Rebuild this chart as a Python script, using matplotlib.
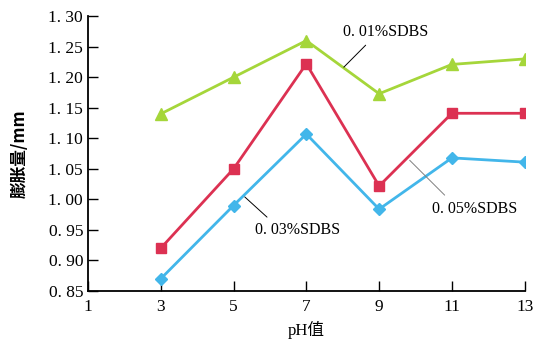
import numpy as np
import matplotlib
matplotlib.use('Agg')
import matplotlib.pyplot as plt
from matplotlib.ticker import FuncFormatter

plt.rcParams['font.family'] = ['Liberation Serif', 'Noto Sans CJK SC', 'DejaVu Sans']

# 数据
ph = [3, 5, 7, 9, 11, 13]
sdbs_001 = [1.14, 1.20, 1.26, 1.173, 1.221, 1.23]
sdbs_005 = [0.92, 1.05, 1.222, 1.022, 1.141, 1.141]
sdbs_003 = [0.87, 0.99, 1.107, 0.984, 1.068, 1.061]
x_ticks = [1, 3, 5, 7, 9, 11, 13]
y_ticks = [0.85, 0.90, 0.95, 1.00, 1.05, 1.10, 1.15, 1.20, 1.25, 1.30]

fig = plt.figure(figsize=(5.36, 3.44), dpi=100)
ax = fig.add_axes([0.164, 0.154, 0.815, 0.799])

ax.plot(ph, sdbs_001, color='#a5d63a', lw=2, marker='^', ms=8)
ax.plot(ph, sdbs_005, color='#dc3152', lw=2, marker='s', ms=7)
ax.plot(ph, sdbs_003, color='#42b6ea', lw=2, marker='D', ms=6)

ax.set_xlim(1, 13)
ax.set_ylim(0.85, 1.30)
ax.set_xticks(x_ticks)
ax.set_yticks(y_ticks)
ax.yaxis.set_major_formatter(FuncFormatter(lambda v, p: f'{v:.2f}'.replace('.', '. ')))
ax.tick_params(direction='in', length=7, width=1, labelsize=12.5)
ax.tick_params(axis='x', pad=6)
for s in ['top', 'right']:
    ax.spines[s].set_visible(False)
for s in ['left', 'bottom']:
    ax.spines[s].set_linewidth(1.3)

ax.set_xlabel('pH值', fontsize=12, labelpad=4)
ax.set_ylabel('膨胀量/mm', fontsize=12, family=['Noto Sans CJK SC'], fontweight='bold', labelpad=14)

# 标注：引线 + 文字
line_kw = dict(arrowstyle='-', lw=0.7, shrinkA=0, shrinkB=0)
ax.annotate('', xy=(8.03, 1.2165), xytext=(8.63, 1.2525),
            arrowprops=dict(color='black', **line_kw))
ax.text(8.0, 1.274, '0. 01%SDBS', fontsize=11.5, ha='left', va='center')

ax.annotate('', xy=(9.84, 1.064), xytext=(10.8, 1.007),
            arrowprops=dict(color='gray', **line_kw))
ax.text(10.45, 0.984, '0. 05%SDBS', fontsize=11.5, ha='left', va='center')

ax.annotate('', xy=(5.31, 1.004), xytext=(5.92, 0.971),
            arrowprops=dict(color='black', **line_kw))
ax.text(5.59, 0.95, '0. 03%SDBS', fontsize=11.5, ha='left', va='center')

fig.savefig('out.png', dpi=100)
plt.close(fig)
